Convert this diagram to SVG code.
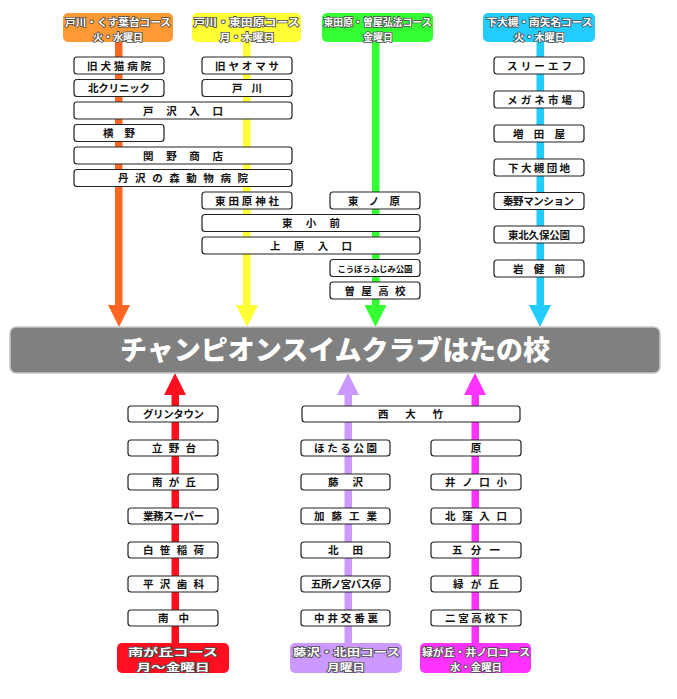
<svg xmlns="http://www.w3.org/2000/svg" width="677" height="699" viewBox="0 0 677 699">
<style>
text{font-family:"Noto Sans CJK JP","Noto Sans",sans-serif;}
.n rect{fill:#fff;stroke:#222;stroke-width:1.2;}
.n text{font-size:10.5px;font-weight:bold;fill:#111;text-anchor:middle;}
.h text{font-size:10.2px;font-weight:bold;fill:#fff;stroke:#4a4a4a;stroke-width:1.6;paint-order:stroke;text-anchor:middle;}
.title{font-size:27px;font-weight:900;fill:#fff;text-anchor:middle;}
</style>
<rect width="677" height="699" fill="#fff"/>
<g id="connectors">
<rect x="115" y="42" width="7.5" height="264" fill="#ff6622"/><polygon points="108,305 130,305 119,327" fill="#ff6622"/>
<rect x="243" y="42" width="7.5" height="264" fill="#ffff33"/><polygon points="236,305 258,305 247,327" fill="#ffff33"/>
<rect x="372" y="42" width="7.5" height="264" fill="#33ff33"/><polygon points="364.5,305 386.5,305 375.5,327" fill="#33ff33"/>
<rect x="536.5" y="42" width="7.5" height="264" fill="#22ccff"/><polygon points="529,305 551,305 540,327" fill="#22ccff"/>
<rect x="171.5" y="394" width="7.5" height="250" fill="#ff0f1f"/><polygon points="164,395 186,395 175,373" fill="#ff0f1f"/>
<rect x="344.5" y="394" width="7.5" height="250" fill="#cc99ff"/><polygon points="337,395 359,395 348,373" fill="#cc99ff"/>
<rect x="471.5" y="394" width="7.5" height="250" fill="#ff33ff"/><polygon points="464,395 486,395 475,373" fill="#ff33ff"/>
</g>
<g id="main">
<rect x="10" y="327" width="650" height="46" rx="6" fill="#808080" stroke="#c8c8c8" stroke-width="1.5"/>
<text class="title" x="335" y="360" textLength="430" lengthAdjust="spacingAndGlyphs">チャンピオンスイムクラブはたの校</text>
</g>
<g id="hdr-orange" class="h"><rect x="63" y="13" width="110" height="29" rx="5" fill="#ff9933"/><text x="118" y="26" textLength="106" lengthAdjust="spacingAndGlyphs">戸川・くす葉台コース</text><text x="118" y="41" textLength="50" lengthAdjust="spacingAndGlyphs">火・水曜日</text></g>
<g id="hdr-yellow" class="h"><rect x="192" y="13" width="109" height="29" rx="5" fill="#ffff33"/><text x="246.5" y="26" textLength="106" lengthAdjust="spacingAndGlyphs">戸川・東田原コース</text><text x="247" y="41" textLength="55" lengthAdjust="spacingAndGlyphs">月・木曜日</text></g>
<g id="hdr-green" class="h"><rect x="322" y="13" width="111" height="29" rx="5" fill="#33ff33"/><text x="377.5" y="26" textLength="108" lengthAdjust="spacingAndGlyphs">東田原・曽屋弘法コース</text><text x="378" y="41" textLength="30" lengthAdjust="spacingAndGlyphs">金曜日</text></g>
<g id="hdr-cyan" class="h"><rect x="483" y="13" width="112" height="29" rx="5" fill="#22ccff"/><text x="539.5" y="26" textLength="106" lengthAdjust="spacingAndGlyphs">下大槻・南矢名コース</text><text x="539.5" y="41" textLength="51" lengthAdjust="spacingAndGlyphs">火・木曜日</text></g>
<g id="ftr-red" class="h"><rect x="117" y="643" width="112" height="30" rx="5" fill="#ff0f1f"/><text x="173" y="656" textLength="90" lengthAdjust="spacingAndGlyphs">南が丘コース</text><text x="173" y="671" textLength="73" lengthAdjust="spacingAndGlyphs">月～金曜日</text></g>
<g id="ftr-purple" class="h"><rect x="290" y="643" width="112" height="30" rx="5" fill="#cc99ff"/><text x="346.5" y="656" textLength="107" lengthAdjust="spacingAndGlyphs">藤沢・北田コース</text><text x="346" y="671" textLength="38" lengthAdjust="spacingAndGlyphs">月曜日</text></g>
<g id="ftr-magenta" class="h"><rect x="420" y="643" width="111" height="30" rx="5" fill="#ff33ff"/><text x="476" y="656" textLength="108" lengthAdjust="spacingAndGlyphs">緑が丘・井ノ口コース</text><text x="476" y="671" textLength="52" lengthAdjust="spacingAndGlyphs">水・金曜日</text></g>
<g id="n01" class="n"><rect x="74" y="57" width="90" height="17" rx="3"/><text x="119" y="69.5" textLength="64">旧犬猫病院</text></g>
<g id="n02" class="n"><rect x="74" y="79.5" width="90" height="17" rx="3"/><text x="119" y="92" textLength="62">北クリニック</text></g>
<g id="n03" class="n"><rect x="74" y="102" width="218" height="17" rx="3"/><text x="183" y="114.5" textLength="80">戸沢入口</text></g>
<g id="n04" class="n"><rect x="74" y="124.5" width="90" height="17" rx="3"/><text x="119" y="137" textLength="32">横野</text></g>
<g id="n05" class="n"><rect x="74" y="147" width="218" height="17" rx="3"/><text x="183" y="159.5" textLength="80">関野商店</text></g>
<g id="n06" class="n"><rect x="74" y="169.5" width="218" height="17" rx="3"/><text x="183" y="182" textLength="130">丹沢の森動物病院</text></g>
<g id="n07" class="n"><rect x="202" y="57" width="90" height="17" rx="3"/><text x="247" y="69.5" textLength="64">旧ヤオマサ</text></g>
<g id="n08" class="n"><rect x="202" y="79.5" width="90" height="17" rx="3"/><text x="247" y="92" textLength="30">戸川</text></g>
<g id="n09" class="n"><rect x="202" y="192" width="90" height="17" rx="3"/><text x="247" y="204.5" textLength="64">東田原神社</text></g>
<g id="n10" class="n"><rect x="330" y="192" width="90" height="17" rx="3"/><text x="374" y="204.5" textLength="52">東ノ原</text></g>
<g id="n11" class="n"><rect x="202" y="214.5" width="218" height="17" rx="3"/><text x="311" y="227" textLength="58">東小前</text></g>
<g id="n12" class="n"><rect x="202" y="237" width="218" height="17" rx="3"/><text x="311" y="249.5" textLength="82">上原入口</text></g>
<g id="n13" class="n"><rect x="330" y="259.5" width="90" height="17" rx="3"/><text x="375" y="271.5" style="font-size:8.5px" textLength="75">こうぼうふじみ公園</text></g>
<g id="n14" class="n"><rect x="330" y="282" width="90" height="17" rx="3"/><text x="375" y="294.5" textLength="61">曽屋高校</text></g>
<g id="n15" class="n"><rect x="494" y="57" width="90" height="17" rx="3"/><text x="539.5" y="69.5" textLength="65">スリーエフ</text></g>
<g id="n16" class="n"><rect x="494" y="91" width="90" height="17" rx="3"/><text x="539.5" y="103.5" textLength="65">メガネ市場</text></g>
<g id="n17" class="n"><rect x="494" y="125" width="90" height="17" rx="3"/><text x="539" y="137.5" textLength="52">増田屋</text></g>
<g id="n18" class="n"><rect x="494" y="159" width="90" height="17" rx="3"/><text x="539" y="171.5" textLength="62">下大槻団地</text></g>
<g id="n19" class="n"><rect x="494" y="192.5" width="90" height="17" rx="3"/><text x="538.5" y="205" textLength="71">秦野マンション</text></g>
<g id="n20" class="n"><rect x="494" y="226" width="90" height="17" rx="3"/><text x="539" y="238.5" textLength="62">東北久保公園</text></g>
<g id="n21" class="n"><rect x="494" y="260" width="90" height="17" rx="3"/><text x="539" y="272.5" textLength="52">岩健前</text></g>
<g id="n22" class="n"><rect x="128" y="406" width="90" height="16" rx="3"/><text x="173.5" y="418" textLength="61">グリンタウン</text></g>
<g id="n23" class="n"><rect x="128" y="440" width="90" height="16" rx="3"/><text x="174" y="452" textLength="44">立野台</text></g>
<g id="n24" class="n"><rect x="128" y="474" width="90" height="16" rx="3"/><text x="174" y="486" textLength="44">南が丘</text></g>
<g id="n25" class="n"><rect x="128" y="508" width="90" height="16" rx="3"/><text x="173.5" y="520" textLength="61">業務スーパー</text></g>
<g id="n26" class="n"><rect x="128" y="542" width="90" height="16" rx="3"/><text x="173.5" y="554" textLength="61">白笹稲荷</text></g>
<g id="n27" class="n"><rect x="128" y="576" width="90" height="16" rx="3"/><text x="173.5" y="588" textLength="61">平沢歯科</text></g>
<g id="n28" class="n"><rect x="128" y="610" width="90" height="16" rx="3"/><text x="173.5" y="622" textLength="31">南中</text></g>
<g id="n29" class="n"><rect x="302" y="406" width="218" height="16" rx="3"/><text x="410.5" y="418" textLength="65">西大竹</text></g>
<g id="n30" class="n"><rect x="301" y="440" width="89" height="16" rx="3"/><text x="345.5" y="452" textLength="63">ほたる公園</text></g>
<g id="n31" class="n"><rect x="301" y="474" width="89" height="16" rx="3"/><text x="345.5" y="486" textLength="35">藤沢</text></g>
<g id="n32" class="n"><rect x="301" y="508" width="89" height="16" rx="3"/><text x="345.5" y="520" textLength="63">加藤工業</text></g>
<g id="n33" class="n"><rect x="301" y="542" width="89" height="16" rx="3"/><text x="345.5" y="554" textLength="35">北田</text></g>
<g id="n34" class="n"><rect x="301" y="576" width="89" height="16" rx="3"/><text x="346" y="588" textLength="70">五所ノ宮バス停</text></g>
<g id="n35" class="n"><rect x="301" y="610" width="89" height="16" rx="3"/><text x="346" y="622" textLength="64">中井交番裏</text></g>
<g id="n36" class="n"><rect x="431" y="440" width="90" height="16" rx="3"/><text x="476" y="452">原</text></g>
<g id="n37" class="n"><rect x="431" y="474" width="90" height="16" rx="3"/><text x="476" y="486" textLength="62">井ノ口小</text></g>
<g id="n38" class="n"><rect x="431" y="508" width="90" height="16" rx="3"/><text x="476" y="520" textLength="62">北窪入口</text></g>
<g id="n39" class="n"><rect x="431" y="542" width="90" height="16" rx="3"/><text x="476" y="554" textLength="48">五分一</text></g>
<g id="n40" class="n"><rect x="431" y="576" width="90" height="16" rx="3"/><text x="476" y="588" textLength="46">緑が丘</text></g>
<g id="n41" class="n"><rect x="431" y="610" width="90" height="16" rx="3"/><text x="476.5" y="622" textLength="63">二宮高校下</text></g>
</svg>
